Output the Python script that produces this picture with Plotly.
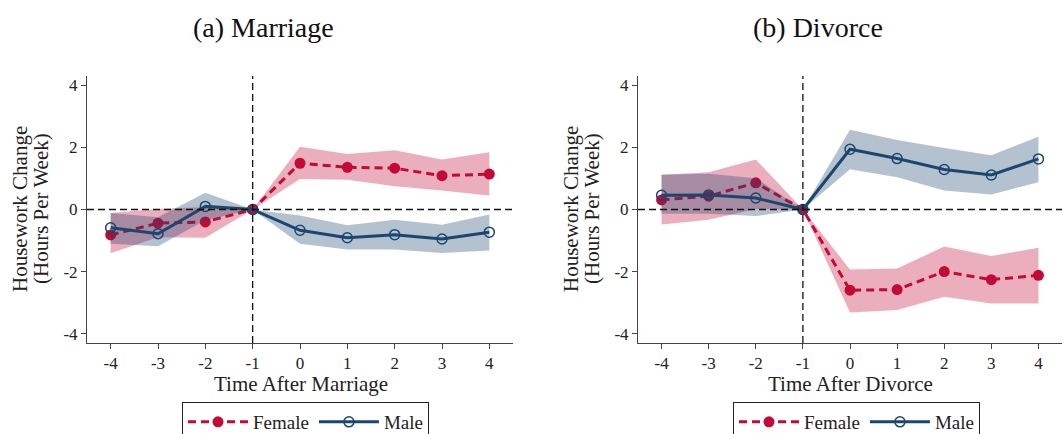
import plotly.graph_objects as go

# ---------------- data ----------------
periods = [-4, -3, -2, -1, 0, 1, 2, 3, 4]
tick_vals_x = [-4, -3, -2, -1, 0, 1, 2, 3, 4]
tick_text_x = ["-4", "-3", "-2", "-1", "0", "1", "2", "3", "4"]
tick_vals_y = [-4, -2, 0, 2, 4]
tick_text_y = ["-4", "-2", "0", "2", "4"]

# (a) Marriage
mar_female = [-0.82, -0.44, -0.40, 0.0, 1.49, 1.36, 1.33, 1.09, 1.14]
mar_female_hi = [-0.11, 0.02, 0.08, 0.0, 2.02, 1.79, 1.91, 1.61, 1.84]
mar_female_lo = [-1.41, -0.89, -0.91, 0.0, 0.98, 0.96, 0.75, 0.61, 0.45]
mar_male = [-0.59, -0.78, 0.10, 0.0, -0.67, -0.91, -0.81, -0.95, -0.73]
mar_male_hi = [-0.11, -0.25, 0.54, 0.0, -0.19, -0.51, -0.33, -0.49, -0.16]
mar_male_lo = [-1.10, -1.18, -0.35, 0.0, -1.10, -1.29, -1.29, -1.40, -1.32]

# (b) Divorce
div_female = [0.31, 0.43, 0.86, 0.0, -2.60, -2.58, -2.00, -2.26, -2.12]
div_female_hi = [1.12, 1.20, 1.61, 0.0, -1.93, -1.90, -1.19, -1.50, -1.23]
div_female_lo = [-0.48, -0.33, 0.02, 0.0, -3.32, -3.24, -2.81, -3.03, -3.03]
div_male = [0.46, 0.47, 0.37, 0.0, 1.94, 1.64, 1.29, 1.11, 1.63]
div_male_hi = [1.12, 1.15, 1.01, 0.0, 2.57, 2.24, 1.98, 1.75, 2.34]
div_male_lo = [-0.14, -0.14, -0.21, 0.0, 1.30, 1.04, 0.61, 0.48, 0.88]

panel_titles = ["(a) Marriage", "(b) Divorce"]
x_titles = ["Time After Marriage", "Time After Divorce"]
y_title_lines = ["Housework Change", "(Hours Per Week)"]

ref_x = -1
ref_y = 0

# ---------------- style ----------------
RED = "#C30A36"
NAVY = "#1A476F"
RED_BAND = "rgba(195,10,54,0.33)"
NAVY_BAND = "rgba(26,71,111,0.33)"
FONT = "Liberation Serif"

fig = go.Figure()


def add_panel(xa, ya, legend, fem, fem_hi, fem_lo, male, male_hi, male_lo):
    # female band + line
    fig.add_trace(go.Scatter(
        x=periods + periods[::-1], y=fem_hi + fem_lo[::-1],
        fill="toself", fillcolor=RED_BAND, line=dict(width=0),
        mode="lines", hoverinfo="skip", showlegend=False,
        xaxis=xa, yaxis=ya))
    fig.add_trace(go.Scatter(
        x=periods, y=fem, mode="lines+markers", name="Female",
        line=dict(color=RED, width=3, dash="8px,5px"),
        marker=dict(symbol="circle", size=11, color=RED),
        xaxis=xa, yaxis=ya, legend=legend))
    # male band + line
    fig.add_trace(go.Scatter(
        x=periods + periods[::-1], y=male_hi + male_lo[::-1],
        fill="toself", fillcolor=NAVY_BAND, line=dict(width=0),
        mode="lines", hoverinfo="skip", showlegend=False,
        xaxis=xa, yaxis=ya))
    fig.add_trace(go.Scatter(
        x=periods, y=male, mode="lines+markers", name="Male",
        line=dict(color=NAVY, width=3),
        marker=dict(symbol="circle-open", size=10, color=NAVY,
                    line=dict(width=1.5, color=NAVY)),
        xaxis=xa, yaxis=ya, legend=legend))


add_panel("x", "y", "legend", mar_female, mar_female_hi, mar_female_lo,
          mar_male, mar_male_hi, mar_male_lo)
add_panel("x2", "y2", "legend2", div_female, div_female_hi, div_female_lo,
          div_male, div_male_hi, div_male_lo)

W, H = 1063, 434
y_dom = [1 - 343 / H, 1 - 76 / H]
x_dom1 = [87 / W, 513 / W]
x_dom2 = [638 / W, 1062 / W]

axis_common = dict(showline=True, linecolor="#444", linewidth=1,
                   ticks="outside", ticklen=5, tickcolor="#444",
                   showgrid=False, zeroline=False,
                   tickfont=dict(family=FONT, size=17, color="#222"))

xax = dict(range=[-4.5, 4.5], tickvals=tick_vals_x, ticktext=tick_text_x,
           **axis_common)
yax = dict(range=[-4.3, 4.3], tickvals=tick_vals_y, ticktext=tick_text_y,
           **axis_common)

legend_common = dict(orientation="h", yanchor="top", xanchor="center",
                     y=1 - 402 / H, bordercolor="#222", borderwidth=1,
                     bgcolor="white",
                     font=dict(family=FONT, size=19, color="#222"),
                     itemwidth=60, tracegroupgap=0)

fig.update_layout(
    width=W, height=H,
    margin=dict(l=0, r=0, t=0, b=0, autoexpand=False),
    paper_bgcolor="white", plot_bgcolor="white",
    showlegend=True,
    xaxis=dict(domain=x_dom1, anchor="y", **xax),
    yaxis=dict(domain=y_dom, anchor="x", **yax),
    xaxis2=dict(domain=x_dom2, anchor="y2", **xax),
    yaxis2=dict(domain=y_dom, anchor="x2", **yax),
    legend=dict(x=(178 + 433) / 2 / W, **legend_common),
    legend2=dict(x=(728 + 985) / 2 / W, **legend_common),
)

# reference lines
for xa, ya in (("x", "y"), ("x2", "y2")):
    fig.add_shape(type="line", xref=f"{xa} domain", yref=ya,
                  x0=0, x1=1, y0=ref_y, y1=ref_y,
                  line=dict(color="#111", width=1.3, dash="7px,4px"))
    fig.add_shape(type="line", xref=xa, yref=f"{ya} domain",
                  x0=ref_x, x1=ref_x, y0=0, y1=1,
                  line=dict(color="#111", width=1.3, dash="7px,4px"))

# panel titles
for txt, xc in zip(panel_titles, (263, 818)):
    fig.add_annotation(text=txt, x=xc / W, y=1 - 28 / H,
                       xref="paper", yref="paper", showarrow=False,
                       xanchor="center", yanchor="middle",
                       font=dict(family=FONT, size=28, color="#111"))

# x-axis titles
for txt, xc in zip(x_titles, (301, 850)):
    fig.add_annotation(text=txt, x=xc / W, y=1 - 384 / H,
                       xref="paper", yref="paper", showarrow=False,
                       xanchor="center", yanchor="middle",
                       font=dict(family=FONT, size=21, color="#222"))

# y-axis titles (two lines each)
for xcs in ((20, 41), (571, 592)):
    for line, xc in zip(y_title_lines, xcs):
        fig.add_annotation(text=line, x=xc / W, y=1 - 209 / H,
                           xref="paper", yref="paper", showarrow=False,
                           xanchor="center", yanchor="middle",
                           textangle=-90,
                           font=dict(family=FONT, size=21, color="#222"))

fig.write_html("out.html")
